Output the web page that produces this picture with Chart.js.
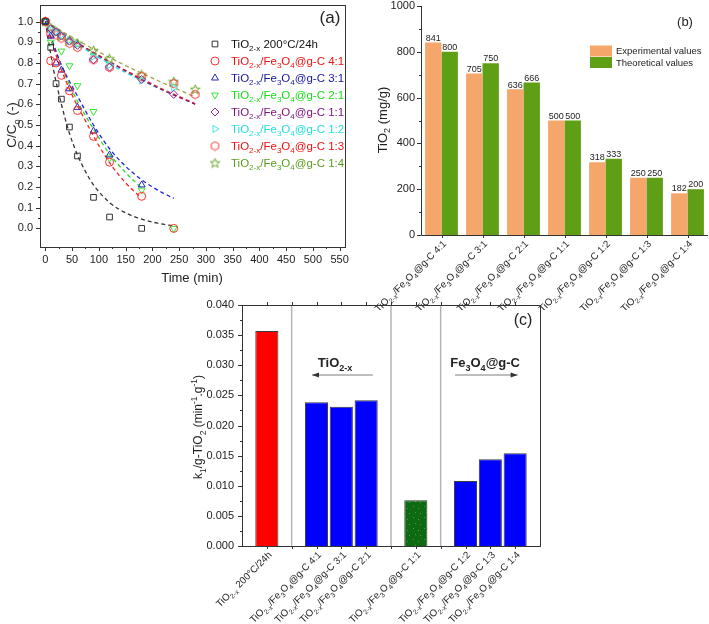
<!DOCTYPE html>
<html>
<head>
<meta charset="utf-8">
<script src="https://cdn.jsdelivr.net/npm/chart.js@4.4.1/dist/chart.umd.min.js"></script>
<style>
  html, body { margin: 0; padding: 0; background: #fff; }
  body { width: 709px; height: 624px; position: relative; overflow: hidden; }
  .panel { position: absolute; }
</style>
</head>
<body>
<div class="panel" style="left:0;top:0;width:355px;height:290px"><canvas id="chartA"></canvas></div>
<div class="panel" style="left:360px;top:0;width:349px;height:310px"><canvas id="chartB"></canvas></div>
<div class="panel" style="left:180px;top:295px;width:380px;height:329px"><canvas id="chartC"></canvas></div>

<script>
// ---- (a) C/Co vs time ----
const timeTicks = [0, 50, 100, 150, 200, 250, 300, 350, 400, 450, 500, 550];
const ratioTicks = [0, 0.1, 0.2, 0.3, 0.4, 0.5, 0.6, 0.7, 0.8, 0.9, 1.0];

const seriesNames = [
  'TiO_{2-x} 200°C/24h',
  'TiO_{2-x}/Fe_{3}O_{4}@g-C 4:1',
  'TiO_{2-x}/Fe_{3}O_{4}@g-C 3:1',
  'TiO_{2-x}/Fe_{3}O_{4}@g-C 2:1',
  'TiO_{2-x}/Fe_{3}O_{4}@g-C 1:1',
  'TiO_{2-x}/Fe_{3}O_{4}@g-C 1:2',
  'TiO_{2-x}/Fe_{3}O_{4}@g-C 1:3',
  'TiO_{2-x}/Fe_{3}O_{4}@g-C 1:4'
];

// measured points
const t200 = [0, 10, 20, 30, 45, 60, 90, 120, 180];
const c200 = [1.0, 0.875, 0.70, 0.625, 0.49, 0.35, 0.15, 0.055, 0.0];
const t41 = [0, 10, 20, 30, 45, 60, 90, 120, 180, 240];
const c41 = [1.0, 0.81, 0.80, 0.74, 0.665, 0.57, 0.445, 0.32, 0.155, 0.0];
const t31 = [0, 10, 20, 30, 45, 60, 90, 120, 180];
const c31 = [1.0, 0.93, 0.80, 0.765, 0.675, 0.585, 0.47, 0.355, 0.21];
const t21 = [0, 10, 30, 45, 60, 90, 120, 180, 240];
const c21 = [1.0, 0.90, 0.857, 0.786, 0.69, 0.565, 0.34, 0.185, 0.0];
const t11 = [0, 10, 20, 30, 45, 60, 90, 120, 180, 240];
const c11 = [1.0, 0.965, 0.95, 0.93, 0.905, 0.885, 0.815, 0.78, 0.72, 0.648];
const t12 = [0, 10, 20, 30, 45, 60, 90, 120, 180, 240];
const c12 = [1.0, 0.96, 0.95, 0.935, 0.91, 0.89, 0.83, 0.79, 0.715, 0.68];
const t13 = [0, 10, 20, 30, 45, 60, 90, 120, 180, 240, 280];
const c13 = [1.0, 0.94, 0.935, 0.92, 0.895, 0.875, 0.815, 0.778, 0.735, 0.70, 0.647];
const t14 = [0, 10, 20, 30, 45, 60, 90, 120, 180, 240, 280];
const c14 = [1.0, 0.97, 0.95, 0.93, 0.91, 0.895, 0.86, 0.82, 0.742, 0.71, 0.672];

// fitted curves
const ft200 = [0, 15, 30, 45, 60, 75, 90, 120, 150, 180, 210, 240];
const fc200 = [1.0, 0.77, 0.60, 0.46, 0.355, 0.275, 0.21, 0.125, 0.075, 0.045, 0.025, 0.012];
const ft41 = [0, 25, 50, 75, 100, 125, 150, 178];
const fc41 = [1.0, 0.80, 0.645, 0.52, 0.40, 0.30, 0.22, 0.15];
const ft31 = [0, 30, 60, 90, 120, 150, 180, 210, 240];
const fc31 = [1.0, 0.79, 0.64, 0.50, 0.385, 0.30, 0.235, 0.185, 0.145];
const ft21 = [0, 30, 60, 90, 120, 150, 180];
const fc21 = [1.0, 0.785, 0.615, 0.48, 0.36, 0.27, 0.195];
const ft11 = [0, 70, 140, 210, 280];
const fc11 = [1.0, 0.88, 0.775, 0.68, 0.60];
const ft12 = [0, 60, 120, 180, 240];
const fc12 = [1.0, 0.89, 0.795, 0.715, 0.645];
const ft13 = [0, 70, 140, 210, 280];
const fc13 = [1.0, 0.882, 0.778, 0.685, 0.603];
const ft14 = [0, 70, 140, 210, 280];
const fc14 = [1.0, 0.895, 0.80, 0.715, 0.635];

// ---- (b) TiO2 content ----
const bCategories = [
  'TiO_{2-x}/Fe_{3}O_{4}@g-C 4:1',
  'TiO_{2-x}/Fe_{3}O_{4}@g-C 3:1',
  'TiO_{2-x}/Fe_{3}O_{4}@g-C 2:1',
  'TiO_{2-x}/Fe_{3}O_{4}@g-C 1:1',
  'TiO_{2-x}/Fe_{3}O_{4}@g-C 1:2',
  'TiO_{2-x}/Fe_{3}O_{4}@g-C 1:3',
  'TiO_{2-x}/Fe_{3}O_{4}@g-C 1:4'
];
const bExperimental = [841, 705, 636, 500, 318, 250, 182];
const bTheoretical = [800, 750, 666, 500, 333, 250, 200];
const bTicks = [0, 200, 400, 600, 800, 1000];

// ---- (c) k1 per g TiO2 ----
const kCategories = [
  'TiO_{2-x} 200°C/24h',
  'TiO_{2-x}/Fe_{3}O_{4}@g-C 4:1',
  'TiO_{2-x}/Fe_{3}O_{4}@g-C 3:1',
  'TiO_{2-x}/Fe_{3}O_{4}@g-C 2:1',
  'TiO_{2-x}/Fe_{3}O_{4}@g-C 1:1',
  'TiO_{2-x}/Fe_{3}O_{4}@g-C 1:2',
  'TiO_{2-x}/Fe_{3}O_{4}@g-C 1:3',
  'TiO_{2-x}/Fe_{3}O_{4}@g-C 1:4'
];
const kRates = [0.0357, 0.02385, 0.0231, 0.0242, 0.0076, 0.0108, 0.0144, 0.0154];
const kTicks = [0, 0.005, 0.01, 0.015, 0.02, 0.025, 0.03, 0.035, 0.04];

// slot layout of panel (c): one empty slot between groups
const kSlots = [1, 3, 4, 5, 7, 9, 10, 11];
const kSlotCount = 13;
const kDividers = [2, 6, 8];

const FONT = '"Liberation Sans", Arial, Helvetica, sans-serif';
Chart.defaults.font.family = FONT;
Chart.defaults.color = '#222';

// small rich-text helper: "_{..}" subscript, "^{..}" superscript
function parseRich(s) {
  const out = [];
  const re = /([_^])\{([^}]*)\}/g;
  let last = 0, m;
  while ((m = re.exec(s))) {
    if (m.index > last) out.push({ t: s.slice(last, m.index), m: 0 });
    out.push({ t: m[2], m: m[1] === '_' ? 1 : 2 });
    last = re.lastIndex;
  }
  if (last < s.length) out.push({ t: s.slice(last), m: 0 });
  return out;
}
function plain(s) { return s.replace(/[_^]\{([^}]*)\}/g, '$1'); }

function drawRich(ctx, s, x, y, size, o = {}) {
  const parts = parseRich(s);
  const weight = o.bold ? 'bold ' : '';
  const fontFor = m => weight + (m ? size * 0.7 : size) + 'px ' + FONT;
  let w = 0;
  parts.forEach(p => { ctx.font = fontFor(p.m); p.w = ctx.measureText(p.t).width; w += p.w; });
  let cx = x;
  if (o.align === 'center') cx -= w / 2;
  else if (o.align === 'right') cx -= w;
  const base = y + size * 0.35;
  ctx.fillStyle = o.color || '#222';
  ctx.textAlign = 'left';
  ctx.textBaseline = 'alphabetic';
  parts.forEach(p => {
    ctx.font = fontFor(p.m);
    const dy = p.m === 1 ? size * 0.3 : (p.m === 2 ? -size * 0.4 : 0);
    ctx.fillText(p.t, cx, base + dy);
    cx += p.w;
  });
  return w;
}
function drawRichRotated(ctx, s, x, y, angle, size, o) {
  ctx.save();
  ctx.translate(x, y);
  ctx.rotate(angle);
  drawRich(ctx, s, 0, 0, size, o);
  ctx.restore();
}

function mids(arr) { return arr.slice(1).map((v, i) => (v + arr[i]) / 2); }
function vTicks(ctx, scale, values, x0, len) {
  values.forEach(v => {
    const p = Math.round(scale.getPixelForValue(v)) + 0.5;
    ctx.beginPath(); ctx.moveTo(x0, p); ctx.lineTo(x0 + len, p); ctx.stroke();
  });
}
function hTicks(ctx, scale, values, y0, len) {
  values.forEach(v => {
    const p = Math.round(scale.getPixelForValue(v)) + 0.5;
    ctx.beginPath(); ctx.moveTo(p, y0); ctx.lineTo(p, y0 + len); ctx.stroke();
  });
}

// custom marker shapes
function markerCanvas(draw) {
  const c = document.createElement('canvas');
  c.width = 11; c.height = 11;
  draw(c.getContext('2d'));
  return c;
}
const hexMarker = markerCanvas(g => {
  g.strokeStyle = '#ff3030'; g.lineWidth = 1;
  g.beginPath();
  for (let i = 0; i < 6; i++) {
    const a = Math.PI / 6 + i * Math.PI / 3;
    const px = 5.5 + 4.3 * Math.cos(a), py = 5.5 + 4.3 * Math.sin(a);
    i ? g.lineTo(px, py) : g.moveTo(px, py);
  }
  g.closePath(); g.stroke();
});
const starMarker = markerCanvas(g => {
  g.strokeStyle = '#66a626'; g.lineWidth = 1;
  g.beginPath();
  for (let i = 0; i < 10; i++) {
    const r = i % 2 ? 2.1 : 5;
    const a = -Math.PI / 2 + i * Math.PI / 5;
    const px = 5.5 + r * Math.cos(a), py = 5.8 + r * Math.sin(a);
    i ? g.lineTo(px, py) : g.moveTo(px, py);
  }
  g.closePath(); g.stroke();
});

const seriesA = [
  { name: seriesNames[0], t: t200, c: c200, ft: ft200, fc: fc200, color: '#333333', text: '#111111', fit: '#333333', style: 'rect' },
  { name: seriesNames[1], t: t41, c: c41, ft: ft41, fc: fc41, color: '#ff3030', text: '#ee1111', fit: '#ff2020', style: 'circle' },
  { name: seriesNames[2], t: t31, c: c31, ft: ft31, fc: fc31, color: '#2828b8', text: '#1616a0', fit: '#2020e0', style: 'triangle' },
  { name: seriesNames[3], t: t21, c: c21, ft: ft21, fc: fc21, color: '#33e833', text: '#16dd16', fit: '#22dd22', style: 'triangle', rot: 180 },
  { name: seriesNames[4], t: t11, c: c11, ft: ft11, fc: fc11, color: '#8e248e', text: '#7f0f7f', fit: '#8b1a6b', style: 'rectRot' },
  { name: seriesNames[5], t: t12, c: c12, ft: ft12, fc: fc12, color: '#40e8e8', text: '#22dede', fit: '#22e0e0', style: 'triangle', rot: 90 },
  { name: seriesNames[6], t: t13, c: c13, ft: ft13, fc: fc13, color: '#ff3030', text: '#ee1111', fit: '#ff2020', style: hexMarker },
  { name: seriesNames[7], t: t14, c: c14, ft: ft14, fc: fc14, color: '#66a626', text: '#5a9e1c', fit: '#a2a24a', style: starMarker }
];

function pts(ts, vs) { return ts.map((t, i) => ({ x: t, y: vs[i] })); }

const markerSets = seriesA.map(s => ({
  label: plain(s.name),
  data: pts(s.t, s.c),
  showLine: false,
  pointStyle: s.style,
  pointRotation: s.rot || 0,
  pointRadius: 4,
  pointBorderWidth: 1,
  pointBorderColor: s.color,
  pointBackgroundColor: 'rgba(0,0,0,0)',
  borderColor: s.color
}));
const fitSets = seriesA.map(s => ({
  label: plain(s.name) + ' fit',
  data: pts(s.ft, s.fc),
  showLine: true,
  pointRadius: 0,
  borderColor: s.fit,
  borderWidth: 1.3,
  borderDash: [4, 3],
  cubicInterpolationMode: 'monotone'
}));

const panelA = {
  id: 'panelA',
  afterDraw(chart) {
    const { ctx, chartArea: a, scales: { x, y } } = chart;
    ctx.save();
    ctx.strokeStyle = '#333';
    ctx.lineWidth = 1;
    ctx.strokeRect(a.left + 0.5, a.top + 0.5, a.width, a.height);
    vTicks(ctx, y, ratioTicks, a.left, -4);
    vTicks(ctx, y, mids(ratioTicks), a.left, -2);
    hTicks(ctx, x, timeTicks, a.bottom, 4);
    hTicks(ctx, x, mids(timeTicks), a.bottom, 2);

    // legend
    seriesA.forEach((s, i) => {
      const ly = 44 + i * 17;
      ctx.strokeStyle = s.color;
      ctx.fillStyle = 'rgba(0,0,0,0)';
      ctx.lineWidth = 1;
      Chart.helpers.drawPoint(ctx, { pointStyle: s.style, rotation: s.rot || 0, radius: 4, borderWidth: 1 }, 215, ly);
      drawRich(ctx, s.name, 231, ly, 11.5, { color: s.text });
    });

    drawRichRotated(ctx, 'C/C_{o} (-)', 11, 125, -Math.PI / 2, 13.5, { align: 'center' });
    drawRich(ctx, 'Time (min)', 192, 277, 13, { align: 'center' });
    drawRich(ctx, '(a)', 330, 17, 17, { align: 'center' });
    ctx.restore();
  }
};

new Chart(document.getElementById('chartA'), {
  type: 'scatter',
  data: { datasets: [...markerSets, ...fitSets] },
  options: {
    responsive: true,
    maintainAspectRatio: false,
    animation: false,
    layout: { padding: { left: 0, right: 10, top: 2, bottom: 0 } },
    plugins: { legend: { display: false }, tooltip: { enabled: false } },
    scales: {
      x: {
        type: 'linear', min: -10, max: 560,
        grid: { display: false, drawTicks: false },
        border: { display: false },
        ticks: { padding: 6, font: { size: 11 }, color: '#222', maxRotation: 0, autoSkip: false, callback: v => String(v) },
        afterBuildTicks: s => { s.ticks = timeTicks.map(v => ({ value: v })); },
        afterFit: s => { s.height = 43; s.paddingLeft = 0; s.paddingRight = 0; }
      },
      y: {
        type: 'linear', min: -0.09, max: 1.08,
        grid: { display: false, drawTicks: false },
        border: { display: false },
        ticks: { padding: 7, font: { size: 11 }, color: '#222', callback: v => v.toFixed(1) },
        afterBuildTicks: s => { s.ticks = ratioTicks.map(v => ({ value: v })); },
        afterFit: s => { s.width = 40; s.paddingTop = 0; s.paddingBottom = 0; }
      }
    }
  },
  plugins: [panelA]
});

// ---- panel (b) ----
const bColors = ['#f5a66a', '#5f9f16'];
const bLegend = ['Experimental values', 'Theoretical values'];

const panelB = {
  id: 'panelB',
  afterDraw(chart) {
    const { ctx, chartArea: a, scales: { x, y } } = chart;
    ctx.save();
    ctx.strokeStyle = '#333';
    ctx.lineWidth = 1;
    ctx.beginPath();
    ctx.moveTo(a.left + 0.5, a.top);
    ctx.lineTo(a.left + 0.5, a.bottom + 0.5);
    ctx.lineTo(a.right, a.bottom + 0.5);
    ctx.stroke();
    vTicks(ctx, y, bTicks, a.left, -4);
    vTicks(ctx, y, mids(bTicks), a.left, -2);
    hTicks(ctx, x, bCategories.map((c, i) => i), a.bottom, 3);

    // value labels
    chart.data.datasets.forEach((ds, di) => {
      chart.getDatasetMeta(di).data.forEach((bar, i) => {
        drawRich(ctx, String(ds.data[i]), bar.x, bar.y - 5, 9, { align: 'center' });
      });
    });

    // category labels
    bCategories.forEach((c, i) => {
      drawRichRotated(ctx, c, x.getPixelForValue(i) + 3, a.bottom + 7, -Math.PI / 4, 9.8, { align: 'right' });
    });

    // legend
    bLegend.forEach((t, i) => {
      const ly = 51 + i * 11.5;
      ctx.fillStyle = bColors[i];
      ctx.fillRect(230, ly - 5.5, 22, 11);
      drawRich(ctx, t, 256, ly, 9.5);
    });

    drawRichRotated(ctx, 'TiO_{2} (mg/g)', 22, 120, -Math.PI / 2, 13, { align: 'center' });
    drawRich(ctx, '(b)', 325, 21, 13, { align: 'center' });
    ctx.restore();
  }
};

new Chart(document.getElementById('chartB'), {
  type: 'bar',
  data: {
    labels: bCategories.map(plain),
    datasets: [
      { label: bLegend[0], data: bExperimental, backgroundColor: bColors[0], borderWidth: 0, categoryPercentage: 0.8, barPercentage: 1 },
      { label: bLegend[1], data: bTheoretical, backgroundColor: bColors[1], borderWidth: 0, categoryPercentage: 0.8, barPercentage: 1 }
    ]
  },
  options: {
    responsive: true,
    maintainAspectRatio: false,
    animation: false,
    layout: { padding: { left: 0, right: 1, top: 6, bottom: 0 } },
    plugins: { legend: { display: false }, tooltip: { enabled: false } },
    scales: {
      x: {
        grid: { display: false, drawTicks: false },
        border: { display: false },
        ticks: { display: false },
        afterFit: s => { s.height = 75; s.paddingLeft = 0; s.paddingRight = 0; }
      },
      y: {
        min: 0, max: 1000,
        grid: { display: false, drawTicks: false },
        border: { display: false },
        ticks: { padding: 6, font: { size: 11 }, color: '#222', callback: v => String(v) },
        afterBuildTicks: s => { s.ticks = bTicks.map(v => ({ value: v })); },
        afterFit: s => { s.width = 61; s.paddingTop = 0; s.paddingBottom = 0; }
      }
    }
  },
  plugins: [panelB]
});

// ---- panel (c) ----
const canvasC = document.getElementById('chartC');
const dotTile = markerCanvas(g => {
  g.fillStyle = '#0d6a10'; g.fillRect(0, 0, 11, 11);
  g.fillStyle = '#4f9a4f';
  g.fillRect(2, 2, 1, 1); g.fillRect(7, 4, 1, 1); g.fillRect(4, 8, 1, 1); g.fillRect(9, 9, 1, 1);
});
const greenDots = canvasC.getContext('2d').createPattern(dotTile, 'repeat');
const kColors = ['#ff0000', '#0000ff', '#0000ff', '#0000ff', greenDots, '#0000ff', '#0000ff', '#0000ff'];

const kLabels = new Array(kSlotCount).fill('');
const kData = new Array(kSlotCount).fill(null);
const kFill = new Array(kSlotCount).fill('rgba(0,0,0,0)');
kSlots.forEach((s, i) => { kLabels[s] = plain(kCategories[i]); kData[s] = kRates[i]; kFill[s] = kColors[i]; });

function arrow(ctx, x1, x2, y) {
  ctx.strokeStyle = '#a8a8a8';
  ctx.lineWidth = 1.5;
  ctx.beginPath(); ctx.moveTo(x1, y); ctx.lineTo(x2, y); ctx.stroke();
  const d = Math.sign(x2 - x1);
  ctx.fillStyle = '#333';
  ctx.beginPath();
  ctx.moveTo(x2, y); ctx.lineTo(x2 - d * 7, y - 2.5); ctx.lineTo(x2 - d * 7, y + 2.5);
  ctx.closePath(); ctx.fill();
}

const panelC = {
  id: 'panelC',
  beforeDatasetsDraw(chart) {
    const { ctx, chartArea: a, scales: { x } } = chart;
    ctx.save();
    ctx.strokeStyle = '#b4b4b4';
    ctx.lineWidth = 1.5;
    kDividers.forEach(d => {
      const px = x.getPixelForValue(d);
      ctx.beginPath(); ctx.moveTo(px, a.top); ctx.lineTo(px, a.bottom); ctx.stroke();
    });
    ctx.restore();
  },
  afterDraw(chart) {
    const { ctx, chartArea: a, scales: { x, y } } = chart;
    ctx.save();
    ctx.strokeStyle = '#333';
    ctx.lineWidth = 1;
    ctx.strokeRect(a.left + 0.5, a.top + 0.5, a.width, a.height);
    vTicks(ctx, y, kTicks, a.left, -4);
    vTicks(ctx, y, mids(kTicks), a.left, -2);
    const slotsAll = [1, 2, 3, 4, 5, 6, 7, 8, 9, 10, 11];
    hTicks(ctx, x, slotsAll, a.bottom, 3);
    hTicks(ctx, x, slotsAll, a.top, -3);

    kSlots.forEach((s, i) => {
      drawRichRotated(ctx, kCategories[i], x.getPixelForValue(s) + 3, a.bottom + 7, -Math.PI / 4, 9.8, { align: 'right' });
    });

    // group annotations
    const ay = y.getPixelForValue(0.0284);
    const ty = y.getPixelForValue(0.0305);
    drawRich(ctx, 'TiO_{2-x}', x.getPixelForValue(3.75), ty, 13, { align: 'center', bold: true });
    arrow(ctx, x.getPixelForValue(5.27), x.getPixelForValue(2.82), ay);
    drawRich(ctx, 'Fe_{3}O_{4}@g-C', x.getPixelForValue(9.79), ty, 13, { align: 'center', bold: true });
    arrow(ctx, x.getPixelForValue(8.58), x.getPixelForValue(11.1), ay);

    drawRichRotated(ctx, 'k_{1}/g-TiO_{2} (min^{-1}.g^{-1})', 18, 132, -Math.PI / 2, 12, { align: 'center' });
    drawRich(ctx, '(c)', 343, 24, 16, { align: 'center' });
    ctx.restore();
  }
};

new Chart(canvasC, {
  type: 'bar',
  data: {
    labels: kLabels,
    datasets: [{
      label: 'k1/g-TiO2',
      data: kData,
      backgroundColor: kFill,
      borderColor: '#3a3a3a',
      borderWidth: 1,
      categoryPercentage: 1,
      barPercentage: 0.93
    }]
  },
  options: {
    responsive: true,
    maintainAspectRatio: false,
    animation: false,
    layout: { padding: { left: 0, right: 20, top: 10, bottom: 0 } },
    plugins: { legend: { display: false }, tooltip: { enabled: false } },
    scales: {
      x: {
        offset: false,
        grid: { display: false, drawTicks: false },
        border: { display: false },
        ticks: { display: false, autoSkip: false },
        afterFit: s => { s.height = 78; s.paddingLeft = 0; s.paddingRight = 0; }
      },
      y: {
        min: 0, max: 0.04,
        grid: { display: false, drawTicks: false },
        border: { display: false },
        ticks: { padding: 8, font: { size: 11 }, color: '#222', callback: v => v.toFixed(3) },
        afterBuildTicks: s => { s.ticks = kTicks.map(v => ({ value: v })); },
        afterFit: s => { s.width = 62; s.paddingTop = 0; s.paddingBottom = 0; }
      }
    }
  },
  plugins: [panelC]
});
</script>
</body>
</html>
